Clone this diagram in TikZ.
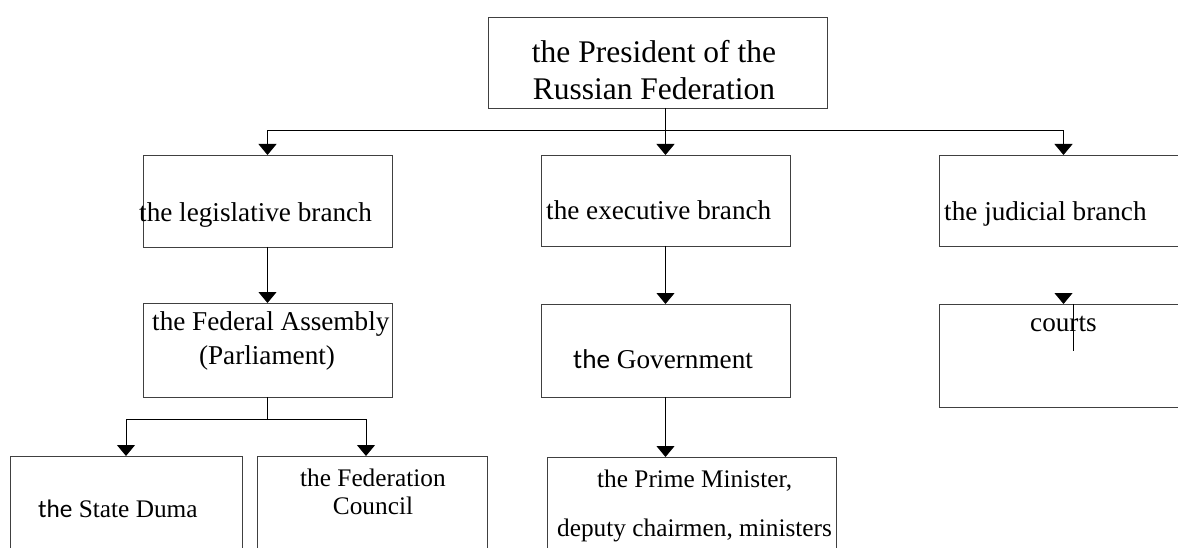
\documentclass[tikz,border=0pt]{standalone}
\usepackage{fontspec}
\setmainfont{Liberation Serif}
\newfontfamily\calib{Carlito}
\usetikzlibrary{arrows.meta}
\begin{document}
\begin{tikzpicture}[x=1pt,y=-1pt,
  box/.style={draw=black!75, line width=0.9pt, inner sep=0pt, outer sep=0pt, rectangle, anchor=north west},
  conn/.style={draw=black, line width=1pt},
  arr/.style={conn, -{Triangle[width=18pt,length=11pt]}},
  txt/.style={inner sep=0pt, anchor=base west},
  txc/.style={inner sep=0pt, anchor=base},
  fA/.style={font=\fontsize{31.5}{37}\selectfont},
  fB/.style={font=\fontsize{27.2}{32}\selectfont},
  fC/.style={font=\fontsize{25.3}{30}\selectfont},
]
\useasboundingbox (0,0) rectangle (1178,548);
\clip (0,0) rectangle (1178,548);

% boxes
\node[box, minimum width=339pt, minimum height=91pt] (pres) at (488,17) {};
\node[box, minimum width=249pt, minimum height=92pt] (leg) at (143,155) {};
\node[box, minimum width=249pt, minimum height=91pt] (exe) at (541,155) {};
\node[box, minimum width=249pt, minimum height=91pt] (jud) at (939,155) {};
\node[box, minimum width=249pt, minimum height=94pt] (fa) at (143,303) {};
\node[box, minimum width=249pt, minimum height=93pt] (gov) at (541,304) {};
\node[box, minimum width=249pt, minimum height=103pt] (courts) at (939,304) {};
\node[box, minimum width=232pt, minimum height=150pt] (duma) at (10,456) {};
\node[box, minimum width=230pt, minimum height=150pt] (fc) at (257,456) {};
\node[box, minimum width=289pt, minimum height=150pt] (pm) at (547,457) {};

% texts
\node[txc, fA] (t1) at (654,63) {the President of the};
\node[txc, fA] (t2) at (654,100) {Russian Federation};
\node[txt, fB] (t3) at (139,222) {the legislative branch};
\node[txt, fB] (t4) at (546,220) {the executive branch};
\node[txt, fB] (t5) at (944,221) {the judicial branch};
\node[txt, fB] (t6) at (152,330) {the Federal Assembly};
\node[txc, fB] (t7) at (267,364) {(Parliament)};
\node[txt, fB] (t8) at (573,368) {{\calib the} Government};
\node[txt, fB] (t9) at (1030,331) {courts};
\node[txt, fC] (t10) at (38,517) {{\calib the} State Duma};
\node[txt, fC] (t11) at (300,486) {the Federation};
\node[txc, fC] (t12) at (373,514) {Council};
\node[txt, fC] (t13) at (597,487) {the Prime Minister,};
\node[txt, fC] (t14) at (557,536) {deputy chairmen, ministers};

% connector helpers
\coordinate (bus) at (0,131);
\coordinate (fabus) at (0,419);
\coordinate (fcin) at (366,456);
\coordinate (cin) at (1063.5,293);
\coordinate (ctop) at (1073,304);
\coordinate (cbot) at (1073,351);

% connectors
\draw[arr] (exe.north |- pres.south) -- (exe.north);
\draw[arr] (exe.north |- bus) -| (leg.north);
\draw[arr] (exe.north |- bus) -| (jud.north);
\draw[arr] (leg.south) -- (fa.north);
\draw[arr] (exe.south) -- (gov.north);
\draw[conn] (fa.south) -- (fa.south |- fabus);
\draw[arr] (fa.south |- fabus) -| (duma.north);
\draw[arr] (fa.south |- fabus) -| (fcin);
\draw[arr] (gov.south) -- (gov.south |- pm.north);
\draw[arr] (cin) -- (courts.north);
\draw[conn, line width=0.8pt] (ctop) -- (cbot);
\end{tikzpicture}
\end{document}
